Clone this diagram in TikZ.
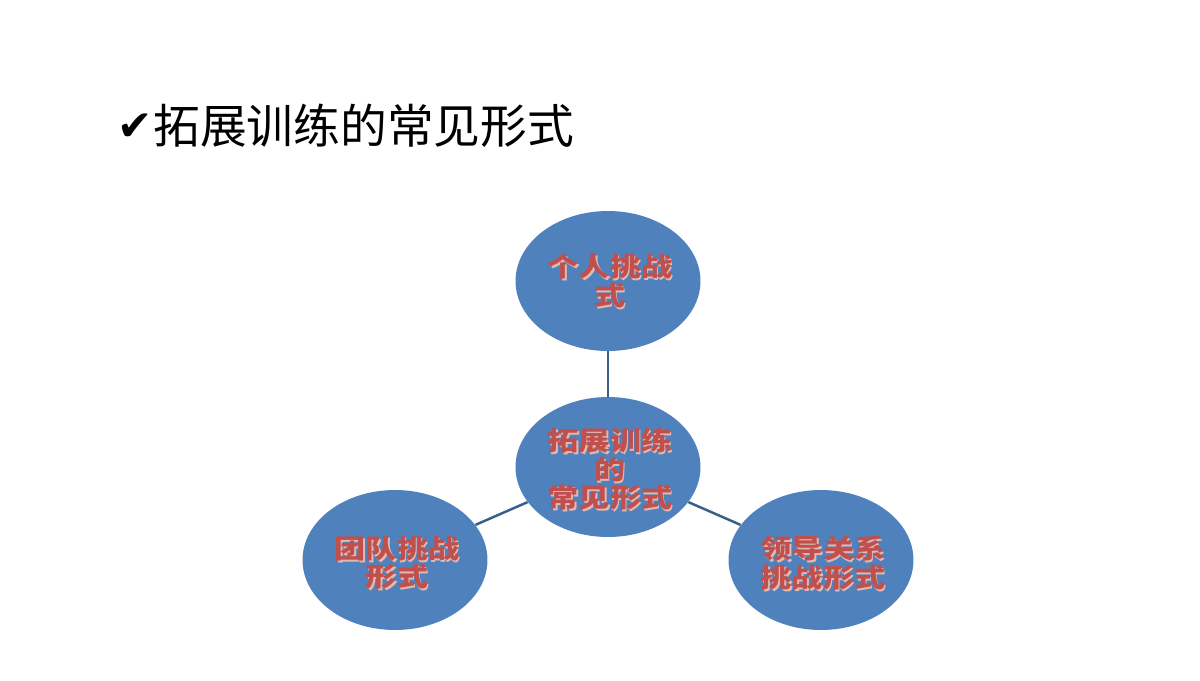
\documentclass[tikz,border=0pt]{standalone}
\usepackage{fontspec}
\newfontfamily\cjk{Noto Sans CJK SC}
\newfontfamily\cjkwide[FakeStretch=1.18]{Noto Sans CJK SC}
\newfontfamily\symf{DejaVu Sans}
\usetikzlibrary{shapes.geometric}
\definecolor{bubble}{HTML}{4F81BD}
\definecolor{linkc}{HTML}{385D8A}
\definecolor{labelred}{HTML}{C0504D}
\definecolor{shadowc}{HTML}{E2B8B0}
\newcommand\mytightlines{\lineskiplimit=-20pt\relax}
\tikzset{
  bubble/.style={ellipse, fill=bubble, minimum width=3.7cm, minimum height=2.8cm, inner sep=0pt},
  link/.style={draw=linkc, line width=1.4pt},
  lbl/.style={text=labelred, font={\cjkwide\bfseries\fontsize{15pt}{16pt}\selectfont\mytightlines}, align=center, inner sep=0pt},
  lblshadow/.style={lbl, text=shadowc},
}
\begin{document}
\begin{tikzpicture}[x=0.02cm,y=-0.02cm]
\useasboundingbox[fill=white] (0,0) rectangle (1200,680);
% title
\node[anchor=west, inner sep=0pt] (check) at (117,127) {\symf\fontsize{24pt}{24pt}\selectfont ✔};
\node[anchor=west, inner sep=0pt] (title) at (153,126) {\cjk\fontsize{26.6pt}{26pt}\selectfont 拓展训练的常见形式};
% bubbles
\node[bubble] (top) at (608,281) {};
\node[bubble] (mid) at (608,467) {};
\node[bubble] (left) at (395,560) {};
\node[bubble] (right) at (821,560) {};
% connectors
\draw[link] (top) -- (mid);
\draw[link] (mid) -- (left);
\draw[link] (mid) -- (right);
% labels with shadow
\node[lblshadow] (tops) at (611.5,283) {个人挑战\\式};
\node[lbl] (topl) at (610,281) {个人挑战\\式};
\node[lblshadow] (mids) at (611.5,471) {拓展训练\\的\\常见形式};
\node[lbl] (midl) at (610,469) {拓展训练\\的\\常见形式};
\node[lblshadow] (lefts) at (398.5,565) {团队挑战\\形式};
\node[lbl] (leftl) at (397,563) {团队挑战\\形式};
\node[lblshadow] (rights) at (824.5,565) {领导关系\\挑战形式};
\node[lbl] (rightl) at (823,563) {领导关系\\挑战形式};
\end{tikzpicture}
\end{document}
